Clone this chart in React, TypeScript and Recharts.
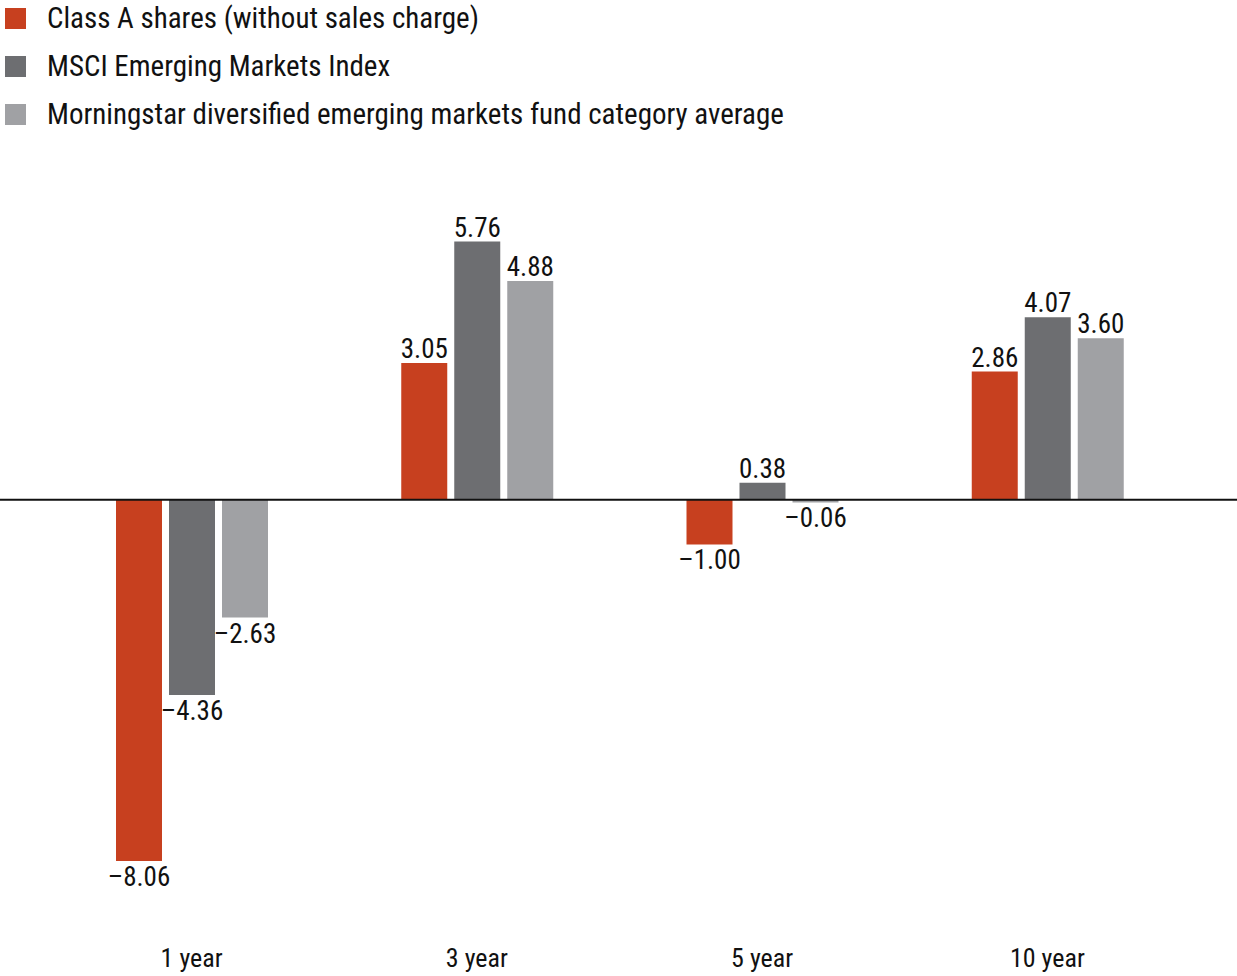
import React from 'react';
import { BarChart, Bar, XAxis, YAxis, ReferenceLine, Legend, LabelList } from 'recharts';

// Average annual total returns (%)
const periods = ['1 year', '3 year', '5 year', '10 year'];
const classA = [-8.06, 3.05, -1.0, 2.86];
const msci = [-4.36, 5.76, 0.38, 4.07];
const morningstar = [-2.63, 4.88, -0.06, 3.6];

const seriesNames = [
  'Class A shares (without sales charge)',
  'MSCI Emerging Markets Index',
  'Morningstar diversified emerging markets fund category average',
];
const colors = ['#C7401F', '#6D6E71', '#A0A1A4'];

const data = periods.map((p, i) => ({
  period: p,
  classA: classA[i],
  msci: msci[i],
  morningstar: morningstar[i],
}));

const FONT = '"Liberation Sans Narrow", "Roboto Condensed", "Open Sans", sans-serif';

const fmt = (v: number) => (v < 0 ? '\u2013' + Math.abs(v).toFixed(2) : v.toFixed(2));

const ValueLabel = (props: any) => {
  const { x, y, width, height, value } = props;
  const top = Math.min(y, y + height);
  const bottom = Math.max(y, y + height);
  const cx = x + width / 2;
  if (value >= 0) {
    return (
      <text x={cx} y={top - 5} textAnchor="middle" fontSize={27} fill="#111" fontFamily={FONT}>
        {fmt(value)}
      </text>
    );
  }
  return (
    <text x={cx} y={bottom + 5} dy="0.74em" textAnchor="middle" fontSize={27} fill="#111" fontFamily={FONT}>
      {fmt(value)}
    </text>
  );
};

const LegendContent = () => (
  <div style={{ fontFamily: FONT, fontSize: 29, color: '#111' }}>
    {seriesNames.map((n, i) => (
      <div key={n} style={{ display: 'flex', alignItems: 'center', height: 48 }}>
        <span style={{ width: 21, height: 21, background: colors[i], marginLeft: 5, marginRight: 21, display: 'inline-block' }} />
        <span>{n}</span>
      </div>
    ))}
  </div>
);

export default function App() {
  return (
    <div style={{ position: 'absolute', left: 0, top: 0, background: '#fff', width: 1237, height: 976 }}>
      <BarChart
        width={1237}
        height={976}
        data={data}
        margin={{ top: 36, right: 0, bottom: 13, left: 0 }}
        barSize={46}
        barGap={7}
      >
        <XAxis
          dataKey="period"
          axisLine={false}
          tickLine={false}
          tickMargin={40}
          padding={{ left: 49, right: 47 }}
          height={60}
          tick={{ fontSize: 26, fill: '#111', fontFamily: FONT }}
        />
        <YAxis hide domain={[-9, 7]} />
        <Legend
          verticalAlign="top"
          align="left"
          content={<LegendContent />}
          wrapperStyle={{ top: -6, left: 0, height: 150 }}
        />
        <ReferenceLine y={0} stroke="#111" strokeWidth={2} />
        <Bar dataKey="classA" fill={colors[0]} isAnimationActive={false}>
          <LabelList dataKey="classA" content={<ValueLabel />} />
        </Bar>
        <Bar dataKey="msci" fill={colors[1]} isAnimationActive={false}>
          <LabelList dataKey="msci" content={<ValueLabel />} />
        </Bar>
        <Bar dataKey="morningstar" fill={colors[2]} isAnimationActive={false}>
          <LabelList dataKey="morningstar" content={<ValueLabel />} />
        </Bar>
      </BarChart>
    </div>
  );
}
